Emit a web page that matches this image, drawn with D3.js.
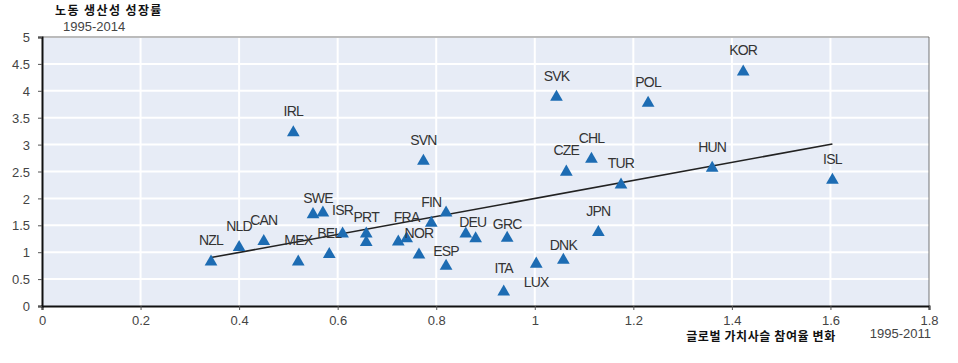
<!DOCTYPE html>
<html>
<head>
<meta charset="utf-8">
<script src="https://cdn.jsdelivr.net/npm/d3@7"></script>
<style>
  body { margin: 0; background: #fff; }
  text { font-family: "Liberation Sans", Arial, sans-serif; }
  .kr { font-family: "Noto Sans CJK KR", sans-serif; font-weight: bold; }
</style>
</head>
<body>
<div id="chart"></div>
<script>
// country codes ('' = unlabeled point), GVC change 1995-2011, productivity growth 1995-2014
let countries = ['NZL','NLD','CAN','MEX','SWE','','BEL','ISR','PRT','','','FRA','NOR','FIN','','DEU','','GRC','ESP','ITA','LUX','DNK','JPN','SVN','IRL','SVK','POL','KOR','CHL','CZE','TUR','HUN','ISL']
let gvcChange = [0.343,0.40,0.45,0.52,0.55,0.57,0.583,0.61,0.658,0.658,0.723,0.74,0.765,0.79,0.82,0.86,0.88,0.944,0.82,0.937,1.003,1.058,1.129,0.774,0.51,1.044,1.23,1.423,1.115,1.064,1.175,1.36,1.604]
let productivity = [0.84,1.11,1.22,0.84,1.72,1.75,0.98,1.36,1.36,1.20,1.21,1.27,0.97,1.56,1.75,1.36,1.27,1.28,0.76,0.28,0.80,0.87,1.39,2.71,3.24,3.90,3.79,4.37,2.75,2.51,2.27,2.58,2.36]
let trendX = [0.343, 1.604]
let trendY = [0.90, 3.01]
let xTicks = [0,0.2,0.4,0.6,0.8,1,1.2,1.4,1.6,1.8]
let yTicks = [0,0.5,1,1.5,2,2.5,3,3.5,4,4.5,5]

// label nudges relative to default (centered, ~21px above the marker)
let labelNudge = {SWE: [5, 5], ISR: [0, -2], PRT: [0, 5], DEU: [7, 10], GRC: [0, 7], ESP: [0, 6], DNK: [0, 6], LUX: [0, 40], ITA: [0, -2]}

let width = 958, height = 363
let margin = {left: 42, right: 29, top: 37, bottom: 57}

let svg = d3.select('#chart').append('svg')
  .attr('width', width)
  .attr('height', height)

let x = d3.scaleLinear().domain([0, 1.8]).range([margin.left, width - margin.right])
let y = d3.scaleLinear().domain([0, 5]).range([height - margin.bottom, margin.top])

// plot background
svg.append('rect')
  .attr('x', x(0)).attr('y', y(5))
  .attr('width', x(1.8) - x(0)).attr('height', y(0) - y(5))
  .attr('fill', '#e7ecf6')

// gridlines
svg.append('g').selectAll('line')
  .data(yTicks.slice(1))
  .join('line')
    .attr('x1', x(0)).attr('x2', x(1.8))
    .attr('y1', d => y(d)).attr('y2', d => y(d))
    .attr('stroke', '#fff').attr('stroke-width', 2)
svg.append('g').selectAll('line')
  .data(xTicks.slice(1, -1))
  .join('line')
    .attr('x1', d => x(d)).attr('x2', d => x(d))
    .attr('y1', y(0)).attr('y2', y(5))
    .attr('stroke', '#fff').attr('stroke-width', 2)

// right/top border
svg.append('path')
  .attr('d', `M${x(0)},${y(5)}H${x(1.8)}V${y(0)}`)
  .attr('fill', 'none').attr('stroke', '#555').attr('stroke-width', 1)
  .attr('stroke-opacity', 0.8)

// axes
let xAxis = svg.append('g')
  .attr('transform', `translate(0,${y(0)})`)
  .call(d3.axisBottom(x).tickValues(xTicks).tickSize(4).tickPadding(6).tickFormat(d3.format('')))
let yAxis = svg.append('g')
  .attr('transform', `translate(${x(0)},0)`)
  .call(d3.axisLeft(y).tickValues(yTicks).tickSize(4).tickPadding(8).tickFormat(d3.format('')))

for (let ax of [xAxis, yAxis]) {
  ax.select('.domain').attr('stroke', '#111').attr('stroke-width', 2)
  ax.selectAll('.tick line').attr('stroke', '#555')
  ax.selectAll('.tick text')
    .attr('fill', '#444')
    .style('font-size', '13px')
    .style('font-family', '"Liberation Sans", Arial, sans-serif')
}
yAxis.selectAll('.tick text').attr('dy', '0.36em')

// trend line
svg.append('line')
  .attr('x1', x(trendX[0])).attr('y1', y(trendY[0]))
  .attr('x2', x(trendX[1])).attr('y2', y(trendY[1]))
  .attr('stroke', '#222').attr('stroke-width', 1.6)

let points = countries.map((c, i) => ({name: c, gvc: gvcChange[i], prod: productivity[i]}))

// markers
let tri = d3.symbol().type(d3.symbolTriangle).size(70)
svg.append('g').selectAll('path')
  .data(points)
  .join('path')
    .attr('d', tri)
    .attr('transform', d => `translate(${x(d.gvc)},${y(d.prod) + 1})`)
    .attr('fill', '#1d6cb3')

// country labels
svg.append('g').selectAll('text')
  .data(points.filter(d => d.name))
  .join('text')
    .attr('x', d => x(d.gvc) + (labelNudge[d.name] ? labelNudge[d.name][0] : 0))
    .attr('y', d => y(d.prod) - 15.5 + (labelNudge[d.name] ? labelNudge[d.name][1] : 0))
    .attr('text-anchor', 'middle')
    .attr('fill', '#333')
    .style('font-size', '14px')
    .style('letter-spacing', '-0.8px')
    .text(d => d.name)

// titles
svg.append('text').attr('class', 'kr')
  .attr('x', 55).attr('y', 15)
  .style('font-size', '12px').style('letter-spacing', '1.4px').attr('fill', '#111')
  .text('노동 생산성 성장률')
svg.append('text')
  .attr('x', 63).attr('y', 31)
  .style('font-size', '13px').attr('fill', '#444')
  .text('1995-2014')
svg.append('text').attr('class', 'kr')
  .attr('x', 761).attr('y', 341)
  .attr('text-anchor', 'middle')
  .style('font-size', '12px').style('letter-spacing', '0.6px').attr('fill', '#111')
  .text('글로벌 가치사슬 참여율 변화')
svg.append('text')
  .attr('x', 931).attr('y', 338)
  .attr('text-anchor', 'end')
  .style('font-size', '13px').attr('fill', '#444')
  .text('1995-2011')
</script>
</body>
</html>
